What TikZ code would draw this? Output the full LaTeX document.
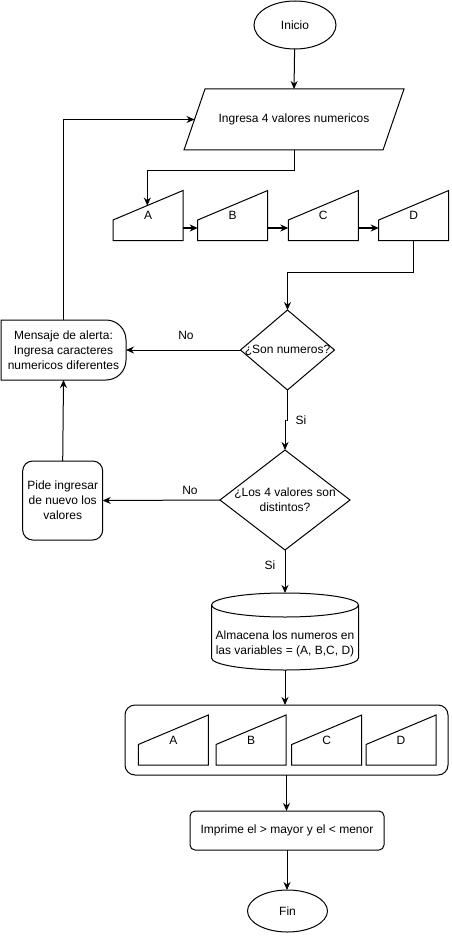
\documentclass[tikz,border=0pt]{standalone}
\usepackage{fontspec}
\setmainfont{Liberation Sans}
\usetikzlibrary{arrows.meta,calc,shapes.geometric}
\newcommand\manin[4]{%
  \node[ghost, minimum width=70, minimum height=50] (#1) at (#2,#3) {#4};
  \coordinate (#1-tl) at ($(#1.south west)!0.41!(#1.north west)$);
  \draw[shp] (#1.south west) -- (#1.south east) -- (#1.north east) -- (#1-tl) -- cycle;}
\begin{document}
\begin{tikzpicture}[x=1pt,y=1pt,
  every node/.style={font=\fontsize{12}{15}\selectfont, inner sep=0pt, outer sep=0pt},
  shp/.style={draw=black, line width=1pt},
  arr/.style={draw=black, line width=1pt, -{Stealth[length=8pt,width=7pt]}},
  ghost/.style={rectangle, draw=none, inner sep=0pt, outer sep=0pt, align=center},
  ]
\fill[white] (0,0) rectangle (451,-941);
\useasboundingbox (0,0) rectangle (451,-941);

% Inicio
\node[ellipse, shp, minimum width=82, minimum height=48] (inicio) at (295,-25) {Inicio};

% Input parallelogram
\node[ghost, minimum width=220, minimum height=61] (P) at (294,-119.5) {Ingresa 4 valores numericos};
\draw[shp] ([xshift=21]P.north west) -- (P.north east) -- ([xshift=-21]P.south east) -- (P.south west) -- cycle;
\coordinate (Pin) at ([xshift=10.5]P.west);

% Row of manual inputs
\manin{A}{148}{-215.5}{A}
\manin{B}{232.7}{-215.5}{B}
\manin{C}{323.3}{-215.5}{C}
\manin{D}{413.7}{-215.5}{D}
\coordinate (Atop) at ($(A-tl)!0.49!(A.north east)$);

% Decision 1
\node[ghost, minimum width=94, minimum height=80] (S) at (287.5,-350) {¿Son numeros?};
\draw[shp] (S.north) -- (S.east) -- (S.south) -- (S.west) -- cycle;

% Alert message
\node[ghost, minimum width=125, minimum height=60] (M) at (63.5,-350) {Mensaje de alerta:\\Ingresa caracteres\\numericos diferentes};
\draw[shp] (M.north west) -- ([xshift=-20]M.north east) arc[start angle=90,end angle=0,radius=20]
  -- ([yshift=20]M.south east) arc[start angle=0,end angle=-90,radius=20] -- (M.south west) -- cycle;

% Decision 2
\node[ghost, minimum width=130, minimum height=100] (T) at (285,-500) {¿Los 4 valores son\\distintos?};
\draw[shp] (T.north) -- (T.east) -- (T.south) -- (T.west) -- cycle;

% Pide
\node[shp, rounded corners=10, minimum width=80, minimum height=79, align=center] (pide) at (62.7,-500.5) {Pide ingresar\\de nuevo los\\valores};

% Storage cylinder
\node[ghost, minimum width=147, minimum height=77] (store) at (285,-631.5) {};
\draw[shp] ([yshift=-12]store.north west) -- ([yshift=12]store.south west)
  arc[start angle=180,end angle=360,x radius=73.5,y radius=12]
  -- ([yshift=-12]store.north east)
  arc[start angle=0,end angle=180,x radius=73.5,y radius=12];
\draw[shp] ([yshift=-12]store.north west) arc[start angle=180,end angle=360,x radius=73.5,y radius=12];
\node[align=center] (storetxt) at ($(store.center)+(0,-12)$) {Almacena los numeros en\\las variables = (A, B,C, D)};

% Container with variables
\node[shp, rounded corners=10, minimum width=323, minimum height=70] (cont) at (286.5,-740) {};
\manin{A2}{173.3}{-740}{A}
\manin{B2}{251}{-740}{B}
\manin{C2}{326.7}{-740}{C}
\manin{D2}{401}{-740}{D}

% Print
\node[shp, rounded corners=5, minimum width=194, minimum height=39] (impr) at (287,-830.5) {Imprime el > mayor y el < menor};

% Fin
\node[ellipse, shp, minimum width=80, minimum height=42] (fin) at (287.5,-911) {Fin};

% Labels
\node (no1) at (186,-335) {No};
\node (si1) at (301,-420) {Si};
\node (no2) at (190,-490) {No};
\node (si2) at (270,-565) {Si};

% Connectors
\draw[arr] (inicio) -- (P.north);
\draw[arr] (P.south) -- ++(0,-21) -| (Atop);
\draw[arr] ([yshift=-12.5]A.east) -- ([yshift=-12.5]B.west);
\draw[arr] ([yshift=-12.5]B.east) -- ([yshift=-12.5]C.west);
\draw[arr] ([yshift=-12.5]C.east) -- ([yshift=-12.5]D.west);
\draw[arr] (D.south) -- ++(0,-32) -| (S.north);
\draw[arr] (S.west) -- (M.east);
\draw[arr] (S.south) |- ($(S.south)!0.5!(T.north)$) -| (T.north);
\draw[arr] (T.west) -- (pide.east);
\draw[arr] (pide.north) -- (M.south);
\draw[arr] (M.north) |- (Pin);
\draw[arr] (T.south) -- (store.north);
\draw[arr] (store.south) -- (store.south |- cont.north);
\draw[arr] (cont.south) -- (cont.south |- impr.north);
\draw[arr] (impr.south) -- (impr.south |- fin.north);
\end{tikzpicture}
\end{document}
